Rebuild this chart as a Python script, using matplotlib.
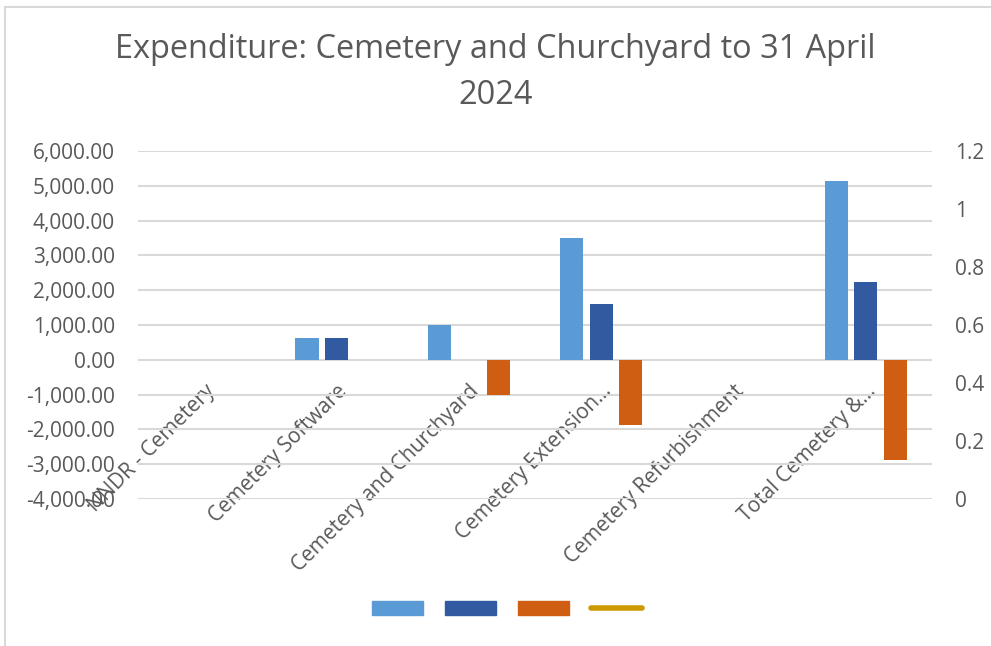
import matplotlib
matplotlib.use("Agg")
import matplotlib.pyplot as plt
import numpy as np
from matplotlib.ticker import FuncFormatter
from matplotlib.lines import Line2D
from matplotlib.patches import Patch

# chart data
categories = ["NNDR - Cemetery", "Cemetery Software", "Cemetery and Churchyard",
              "Cemetery Extension…", "Cemetery Refurbishment", "Total Cemetery &…"]
series_a = [0, 640, 1000, 3500, 0, 5140]       # light blue
series_b = [0, 640, 0, 1600, 0, 2240]          # dark blue
series_c = [0, 0, -1000, -1880, 0, -2880]      # orange
series_d = [np.nan] * 6                        # line on secondary axis (no values)
left_ticks = [-4000, -3000, -2000, -1000, 0, 1000, 2000, 3000, 4000, 5000, 6000]
right_ticks = [0, 0.2, 0.4, 0.6, 0.8, 1.0, 1.2]

c_light = "#5B9BD5"
c_dark = "#325AA0"
c_orange = "#D05E12"
c_gold = "#CC9900"
grey_txt = "#595959"

plt.rcParams['font.family'] = ['Open Sans', 'DejaVu Sans']

fig = plt.figure(figsize=(9.91, 6.46), dpi=100)
ax = fig.add_axes([138/991, 1 - 499/646, (932 - 138)/991, (499 - 151)/646])

x = np.arange(len(categories))
w = 0.174
off = 0.223
ax.bar(x - off, series_a, w, color=c_light, zorder=3)
ax.bar(x, series_b, w, color=c_dark, zorder=3)
ax.bar(x + off, series_c, w, color=c_orange, zorder=3)

ax.set_xlim(-0.5, len(categories) - 0.5)
ax.set_ylim(-4000, 6000)
ax.set_yticks(left_ticks)
ax.yaxis.set_major_formatter(FuncFormatter(lambda v, p: f"{v:,.2f}"))
ax.grid(axis="y", color="#D9D9D9", linewidth=1.5, zorder=0)
ax.set_axisbelow(True)
for s in ax.spines.values():
    s.set_visible(False)
ax.spines["bottom"].set_position(("data", 0))
ax.tick_params(axis="y", length=0, labelsize=15, labelcolor=grey_txt, pad=16.5)
ax.tick_params(axis="x", length=0, labelsize=15, labelcolor=grey_txt, pad=15)
ax.set_xticks(x)
ax.set_xticklabels(categories, rotation=45, ha="right", va="top", rotation_mode="anchor")

ax2 = ax.twinx()
ax2.plot(x, series_d, color=c_gold, linewidth=4, solid_capstyle="round")
ax2.set_ylim(0, 1.2)
ax2.set_yticks(right_ticks)
ax2.yaxis.set_major_formatter(FuncFormatter(lambda v, p: f"{v:g}"))
for s in ax2.spines.values():
    s.set_visible(False)
ax2.tick_params(axis="y", length=0, labelsize=15, labelcolor=grey_txt, pad=16.5)

fig.suptitle("Expenditure: Cemetery and Churchyard to 31 April\n2024",
             fontsize=23.4, color=grey_txt, y=1 - 33/646, linespacing=1.52)

handles = [Patch(color=c_light), Patch(color=c_dark), Patch(color=c_orange),
           Line2D([0], [0], color=c_gold, linewidth=4, solid_capstyle="round")]
fig.legend(handles, ["", "", "", ""], loc="center", bbox_to_anchor=(507/991, 1 - 610/646),
           ncol=4, frameon=False, fontsize=14, handlelength=2.6, handletextpad=0,
           columnspacing=1.15, handleheight=0.75)

# light chart border
fig.add_artist(Line2D([5/991, 5/991], [0, 1 - 6.5/646], transform=fig.transFigure,
                      color="#D9D9D9", linewidth=1.5))
fig.add_artist(Line2D([5/991, 1], [1 - 6.5/646, 1 - 6.5/646], transform=fig.transFigure,
                      color="#D9D9D9", linewidth=1.5))

fig.savefig("out.png", dpi=100)
